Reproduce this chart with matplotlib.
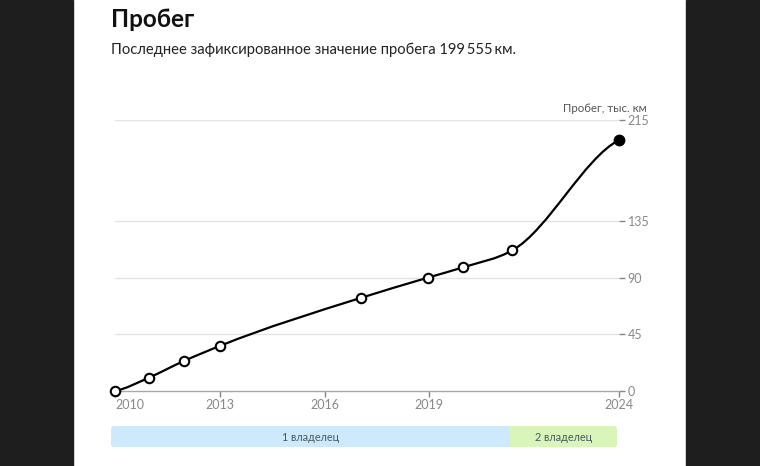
import numpy as np
import matplotlib
matplotlib.use("Agg")
import matplotlib.pyplot as plt
from matplotlib.path import Path
from matplotlib.patches import PathPatch, FancyBboxPatch, Rectangle

plt.rcParams.update({"font.family": ["Lato", "DejaVu Sans"]})

# ── данные ────────────────────────────────────────────────────────────────────
YEARS   = [2010.0, 2010.97, 2011.97, 2013.02, 2017.03, 2018.95, 2019.97, 2021.38, 2024.44]
MILEAGE = [0, 10.6, 23.8, 36.0, 73.9, 90.0, 98.3, 111.8, 199.555]   # тыс. км
X_TICKS  = [2010, 2013, 2016, 2019, YEARS[-1]]
X_LABELS = ["2010", "2013", "2016", "2019", "2024"]
Y_TICKS  = [0, 45, 90, 135, 215]
OWNERS      = ["1 владелец", "2 владелец"]
OWNER_FROM  = [2010.0, 2021.38]
OWNER_COLORS = ["#cde9fb", "#d9f5ba"]

W, H = 760, 466
GRID = "#e4e4e4"
TICK = "#888888"


def fx(px):
    return px / W


def fy(py):
    return 1 - py / H


def monotone_path(x, y, end_k=0.5):
    # кривая как d3.curveMonotoneX, концы с половинным наклоном хорды
    x = np.asarray(x, float)
    y = np.asarray(y, float)
    h = np.diff(x)
    s = np.diff(y) / h
    m = np.zeros(len(x))
    for i in range(1, len(x) - 1):
        p = (s[i - 1] * h[i] + s[i] * h[i - 1]) / (h[i - 1] + h[i])
        m[i] = (np.sign(s[i - 1]) + np.sign(s[i])) * min(abs(s[i - 1]), abs(s[i]), 0.5 * abs(p))
    m[0] = end_k * s[0]
    m[-1] = end_k * s[-1]
    verts = [(x[0], y[0])]
    codes = [Path.MOVETO]
    for i in range(len(x) - 1):
        d = h[i] / 3
        verts += [(x[i] + d, y[i] + m[i] * d), (x[i + 1] - d, y[i + 1] - m[i + 1] * d), (x[i + 1], y[i + 1])]
        codes += [Path.CURVE4] * 3
    return Path(verts, codes)


fig = plt.figure(figsize=(W / 100, H / 100), dpi=100)
fig.patch.set_facecolor("white")

# тёмные поля по бокам
fig.patches.append(Rectangle((0, 0), fx(73), 1, transform=fig.transFigure, color="#1e1e1e", zorder=0))
fig.patches.append(Rectangle((fx(686), 0), 1 - fx(686), 1, transform=fig.transFigure, color="#1e1e1e", zorder=0))

# заголовки
fig.text(fx(111), fy(27), "Пробег", fontsize=17.5, fontweight="bold", color="#111111", va="baseline")
fig.text(fx(111), fy(54), "Последнее зафиксированное значение пробега 199\u2009555\u2009км.",
         fontsize=10.6, color="#222222", va="baseline")

# ── основной график ──────────────────────────────────────────────────────────
ax = fig.add_axes([fx(115), fy(391), fx(619.3) - fx(115), fy(120.4) - fy(391)])
ax.set_xlim(YEARS[0], YEARS[-1])
ax.set_ylim(0, 215)
for sp in ["top", "left", "right"]:
    ax.spines[sp].set_visible(False)
ax.spines["bottom"].set_color("#a8a8a8")
ax.spines["bottom"].set_linewidth(1)

ax.yaxis.tick_right()
ax.set_yticks(Y_TICKS)
ax.set_yticklabels([str(v) for v in Y_TICKS])
ax.tick_params(axis="y", length=4, width=1, color=TICK, labelcolor=TICK, labelsize=9, pad=2)
for v in Y_TICKS[1:]:
    ax.axhline(v, color=GRID, lw=1, zorder=1)

ax.set_xticks(X_TICKS)
ax.set_xticklabels(X_LABELS)
ax.tick_params(axis="x", length=4, width=1, color=TICK, labelcolor=TICK, labelsize=9, pad=2)
ax.get_xticklabels()[0].set_horizontalalignment("left")

ax.text(1.055, 1.045, "Пробег, тыс. км", transform=ax.transAxes, ha="right", va="center",
        fontsize=8.3, color="#555555")

ax.add_patch(PathPatch(monotone_path(YEARS, MILEAGE), fill=False, edgecolor="black",
                       lw=1.6, zorder=3, clip_on=False))
ax.plot(YEARS[:-1], MILEAGE[:-1], "o", ms=6.8, mfc="white", mec="black", mew=1.5,
        zorder=4, clip_on=False)
ax.plot(YEARS[-1:], MILEAGE[-1:], "o", ms=7.5, mfc="black", mec="black",
        zorder=4, clip_on=False)

# ── полоса владельцев ─────────────────────────────────────────────────────────
bx = fig.add_axes([fx(111), fy(447.3), fx(617) - fx(111), fy(426) - fy(447.3)])
bx.set_xlim(YEARS[0], YEARS[-1])
bx.set_ylim(0, 1)
bx.axis("off")
bar_w_px = 617 - 111
bar_h_px = 447.3 - 426
r = 3 / bar_w_px * (YEARS[-1] - YEARS[0])
asp = (3 / bar_h_px) / r
ends = OWNER_FROM[1:] + [YEARS[-1]]
for i, (name, x0, x1, c) in enumerate(zip(OWNERS, OWNER_FROM, ends, OWNER_COLORS)):
    bx.add_patch(FancyBboxPatch((x0, 0), x1 - x0, 1, boxstyle=f"round,pad=0,rounding_size={r}",
                                mutation_aspect=asp, facecolor=c, edgecolor="none"))
    if i > 0:
        bx.add_patch(Rectangle((x0, 0), 2 * r, 1, facecolor=c, edgecolor="none"))
    if i < len(OWNERS) - 1:
        bx.add_patch(Rectangle((x1 - 2 * r, 0), 2 * r, 1, facecolor=c, edgecolor="none"))
    bx.text((x0 + x1) / 2, 0.48, name, ha="center", va="center", fontsize=7.8, color="#4a5864")

fig.savefig("out.png", dpi=100, facecolor="white")
